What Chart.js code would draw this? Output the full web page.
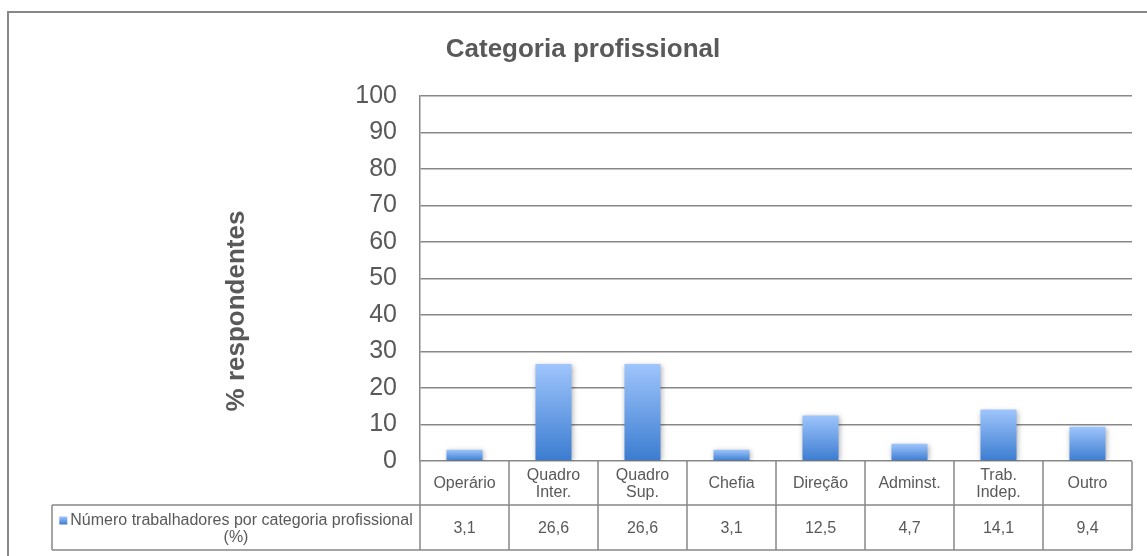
<!DOCTYPE html>
<html>
<head>
<meta charset="utf-8">
<title>Categoria profissional</title>
<script src="https://cdn.jsdelivr.net/npm/chart.js@4.4.1/dist/chart.umd.min.js"></script>
<style>
    html, body { margin: 0; padding: 0; background: #ffffff; }
    #wrap { width: 1147px; height: 556px; }
</style>
</head>
<body>
<div id="wrap"><canvas id="categoryChart" width="1147" height="556"></canvas></div>
<script>
// ===================================
// Data
// ===================================

const categories = [['Operário'], ['Quadro', 'Inter.'], ['Quadro', 'Sup.'], ['Chefia'], ['Direção'], ['Adminst.'], ['Trab.', 'Indep.'], ['Outro']];
const percentValues = [3.1, 26.6, 26.6, 3.1, 12.5, 4.7, 14.1, 9.4];
const seriesLabel = ['Número trabalhadores por categoria profissional', '(%)'];
const yMin = 0;
const yMax = 100;
const yStep = 10;

const textGray = '#595959';
const lineGray = '#888888';
const barTop = '#9fc5fc';
const barBottom = '#3b7cd0';

function barGradient(ctx, top, bottom) {
    const g = ctx.createLinearGradient(0, top, 0, bottom);
    g.addColorStop(0, barTop);
    g.addColorStop(1, barBottom);
    return g;
}

// outer frame of the chart object (right / bottom edge fall outside the picture)
const framePlugin = {
    id: 'frame',
    beforeDraw(chart) {
        const ctx = chart.ctx;
        ctx.save();
        ctx.strokeStyle = lineGray;
        ctx.lineWidth = 2;
        ctx.beginPath();
        ctx.moveTo(8, chart.height + 5);
        ctx.lineTo(8, 12);
        ctx.lineTo(chart.width + 5, 12);
        ctx.stroke();
        ctx.restore();
    }
};

// soft shadow under the bars
const shadowPlugin = {
    id: 'barShadow',
    beforeDatasetsDraw(chart) {
        const ctx = chart.ctx;
        ctx.save();
        ctx.shadowColor = 'rgba(0, 0, 0, 0.3)';
        ctx.shadowBlur = 5;
        ctx.shadowOffsetX = 1;
        ctx.shadowOffsetY = 1;
    },
    afterDatasetsDraw(chart) {
        chart.ctx.restore();
    }
};

// Excel style data table below the plot
const dataTablePlugin = {
    id: 'dataTable',
    afterDraw(chart) {
        const ctx = chart.ctx;
        const xScale = chart.scales.x;
        const area = chart.chartArea;
        const colW = (area.right - area.left) / categories.length;
        const headTop = area.bottom;
        const headBottom = area.bottom + 44;
        const rowBottom = area.bottom + 89;
        const legendLeft = 52;

        ctx.save();
        ctx.strokeStyle = lineGray;
        ctx.lineWidth = 1.5;
        ctx.beginPath();
        // horizontal lines
        ctx.moveTo(legendLeft, headBottom);
        ctx.lineTo(area.right, headBottom);
        ctx.moveTo(legendLeft, rowBottom);
        ctx.lineTo(area.right, rowBottom);
        ctx.moveTo(legendLeft, headBottom);
        ctx.lineTo(legendLeft, rowBottom);
        // column lines
        for (let i = 0; i <= categories.length; i++) {
            const cx = area.left + i * colW;
            ctx.moveTo(cx, headTop);
            ctx.lineTo(cx, rowBottom);
        }
        ctx.stroke();

        ctx.fillStyle = textGray;
        ctx.font = '16px "Liberation Sans", Arial, sans-serif';
        ctx.textAlign = 'center';
        ctx.textBaseline = 'middle';

        const lineH = 17;
        categories.forEach((lines, i) => {
            const cx = xScale.getPixelForValue(i);
            const midY = (headTop + headBottom) / 2 + 1;
            const startY = midY - (lines.length - 1) * lineH / 2;
            lines.forEach((t, j) => ctx.fillText(t, cx, startY + j * lineH));
            const val = percentValues[i].toFixed(1).replace('.', ',');
            ctx.fillText(val, cx, (headBottom + rowBottom) / 2 + 1);
        });

        // legend cell: key square + series name
        const legendMid = (legendLeft + area.left) / 2;
        const midRow = (headBottom + rowBottom) / 2;
        const w1 = ctx.measureText(seriesLabel[0]).width;
        const sq = 8;
        const totalW = sq + 3 + w1;
        const sx = legendMid - totalW / 2;
        ctx.fillStyle = barGradient(ctx, midRow - 11, midRow - 3);
        ctx.fillRect(sx, midRow - 11, sq, sq);
        ctx.fillStyle = textGray;
        ctx.textAlign = 'left';
        ctx.fillText(seriesLabel[0], sx + sq + 3, midRow - 7);
        ctx.textAlign = 'center';
        ctx.fillText(seriesLabel[1], legendMid, midRow + 10);
        ctx.restore();
    }
};

document.addEventListener('DOMContentLoaded', function() {
    const canvas = document.getElementById('categoryChart');
    const ctx = canvas.getContext('2d');

    new Chart(ctx, {
        type: 'bar',
        data: {
            labels: categories,
            datasets: [{
                label: seriesLabel.join(' '),
                data: percentValues,
                backgroundColor: function(context) {
                    const chart = context.chart;
                    const y = chart.scales && chart.scales.y;
                    if (!y || typeof context.raw !== 'number') return barBottom;
                    const top = y.getPixelForValue(context.raw);
                    const bottom = y.getPixelForValue(0);
                    if (!isFinite(top) || !isFinite(bottom) || top === bottom) return barBottom;
                    return barGradient(chart.ctx, top, bottom);
                },
                borderWidth: 0,
                barPercentage: 0.405,
                categoryPercentage: 1
            }]
        },
        options: {
            responsive: false,
            animation: false,
            layout: {
                padding: { left: 34, right: 15, top: 0, bottom: 95 }
            },
            plugins: {
                legend: { display: false },
                tooltip: { enabled: false },
                title: {
                    display: true,
                    text: 'Categoria profissional',
                    color: textGray,
                    font: { family: '"Liberation Sans", Arial, sans-serif', size: 26, weight: 'bold', lineHeight: 1.2 },
                    padding: { top: 34, bottom: 30.8 }
                }
            },
            scales: {
                x: {
                    display: false
                },
                y: {
                    min: yMin,
                    max: yMax,
                    afterFit: function(scale) {
                        scale.width = 386;
                    },
                    ticks: {
                        stepSize: yStep,
                        color: textGray,
                        padding: 23,
                        font: { family: '"Liberation Sans", Arial, sans-serif', size: 25 }
                    },
                    grid: {
                        color: lineGray,
                        lineWidth: 1.5,
                        drawTicks: false
                    },
                    border: {
                        display: true,
                        color: lineGray,
                        width: 1.5
                    },
                    title: {
                        display: true,
                        text: '% respondentes         ',
                        color: textGray,
                        font: { family: '"Liberation Sans", Arial, sans-serif', size: 26, weight: 'bold', lineHeight: 1.2 },
                        padding: { top: 187, bottom: 0 }
                    }
                }
            }
        },
        plugins: [framePlugin, shadowPlugin, dataTablePlugin]
    });
});
</script>
</body>
</html>
